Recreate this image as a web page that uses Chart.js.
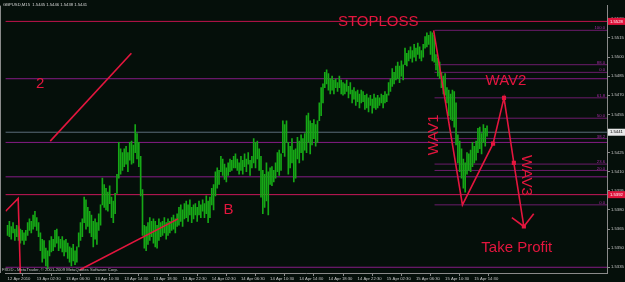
<!DOCTYPE html>
<html>
<head>
<meta charset="utf-8">
<script src="https://cdn.jsdelivr.net/npm/chart.js@4.4.1/dist/chart.umd.min.js"></script>
<style>
  html, body { margin: 0; padding: 0; background: #050f0a; }
  #wrap { width: 625px; height: 282px; }
</style>
</head>
<body>
<div id="wrap"><canvas id="chart" width="625" height="282"></canvas></div>
<script>
// GBPUSD M15 bars (high / low per bar)
const barHigh = [
  1.5368,1.5371,1.5367,1.5370,1.5365,1.5368,1.5367,1.5365,1.5364,1.5362,
  1.5364,1.5370,1.5373,1.5371,1.5376,1.5379,1.5374,1.5370,1.5362,1.5357,
  1.5356,1.5350,1.5348,1.5356,1.5359,1.5357,1.5364,1.5365,1.5359,1.5357,
  1.5359,1.5356,1.5357,1.5354,1.5351,1.5350,1.5353,1.5348,1.5351,1.5362,
  1.5370,1.5373,1.5390,1.5388,1.5382,1.5379,1.5376,1.5371,1.5373,1.5370,
  1.5377,1.5384,1.5405,1.5400,1.5397,1.5394,1.5399,1.5390,1.5387,1.5393,
  1.5408,1.5433,1.5428,1.5425,1.5428,1.5430,1.5425,1.5433,1.5434,1.5431,
  1.5447,1.5440,1.5433,1.5422,1.5396,1.5368,1.5367,1.5370,1.5374,1.5371,
  1.5373,1.5371,1.5368,1.5373,1.5370,1.5371,1.5374,1.5370,1.5373,1.5371,
  1.5374,1.5376,1.5373,1.5377,1.5382,1.5384,1.5380,1.5385,1.5387,1.5384,
  1.5388,1.5382,1.5384,1.5385,1.5382,1.5387,1.5384,1.5388,1.5385,1.5391,
  1.5387,1.5390,1.5397,1.5400,1.5410,1.5413,1.5411,1.5422,1.5420,1.5416,
  1.5413,1.5417,1.5420,1.5419,1.5422,1.5424,1.5420,1.5417,1.5422,1.5419,
  1.5424,1.5420,1.5425,1.5419,1.5422,1.5436,1.5433,1.5434,1.5428,1.5422,
  1.5411,1.5408,1.5417,1.5410,1.5413,1.5414,1.5411,1.5417,1.5425,1.5427,
  1.5424,1.5450,1.5447,1.5450,1.5433,1.5430,1.5436,1.5427,1.5428,1.5437,
  1.5434,1.5439,1.5436,1.5440,1.5454,1.5456,1.5450,1.5448,1.5451,1.5447,
  1.5450,1.5464,1.5476,1.5479,1.5488,1.5490,1.5487,1.5483,1.5485,1.5482,
  1.5483,1.5480,1.5485,1.5482,1.5480,1.5479,1.5482,1.5477,1.5480,1.5474,
  1.5476,1.5473,1.5474,1.5471,1.5474,1.5473,1.5470,1.5471,1.5468,1.5470,
  1.5467,1.5471,1.5468,1.5470,1.5468,1.5471,1.5470,1.5473,1.5471,1.5480,
  1.5483,1.5491,1.5488,1.5493,1.5496,1.5493,1.5497,1.5494,1.5507,1.5503,
  1.5505,1.5508,1.5505,1.5510,1.5507,1.5511,1.5508,1.5505,1.5510,1.5516,
  1.5519,1.5517,1.5520,1.5519,1.5517,1.5502,1.5499,1.5496,1.5488,1.5485,
  1.5487,1.5476,1.5474,1.5471,1.5474,1.5473,1.5464,1.5439,1.5434,1.5428,
  1.5420,1.5417,1.5425,1.5424,1.5427,1.5433,1.5430,1.5434,1.5444,1.5445,
  1.5440,1.5447,1.5444,1.5446
];
const barLow = [
  1.5360,1.5359,1.5357,1.5362,1.5356,1.5359,1.5356,1.5354,1.5356,1.5353,
  1.5356,1.5360,1.5364,1.5362,1.5365,1.5367,1.5364,1.5359,1.5348,1.5339,
  1.5342,1.5336,1.5334,1.5344,1.5347,1.5348,1.5351,1.5354,1.5348,1.5350,
  1.5347,1.5344,1.5347,1.5342,1.5339,1.5336,1.5340,1.5337,1.5339,1.5351,
  1.5356,1.5359,1.5370,1.5365,1.5367,1.5362,1.5359,1.5351,1.5357,1.5353,
  1.5364,1.5368,1.5384,1.5382,1.5380,1.5379,1.5385,1.5374,1.5370,1.5377,
  1.5393,1.5405,1.5408,1.5411,1.5414,1.5416,1.5410,1.5419,1.5416,1.5417,
  1.5425,1.5420,1.5414,1.5391,1.5360,1.5350,1.5348,1.5353,1.5356,1.5359,
  1.5354,1.5351,1.5350,1.5356,1.5359,1.5360,1.5362,1.5357,1.5360,1.5362,
  1.5364,1.5365,1.5362,1.5367,1.5368,1.5371,1.5367,1.5373,1.5374,1.5371,
  1.5376,1.5370,1.5373,1.5376,1.5371,1.5376,1.5374,1.5379,1.5374,1.5377,
  1.5370,1.5374,1.5384,1.5380,1.5391,1.5397,1.5400,1.5410,1.5407,1.5404,
  1.5402,1.5407,1.5410,1.5411,1.5413,1.5413,1.5411,1.5408,1.5411,1.5408,
  1.5414,1.5410,1.5416,1.5407,1.5413,1.5417,1.5413,1.5420,1.5411,1.5390,
  1.5377,1.5382,1.5387,1.5376,1.5400,1.5399,1.5402,1.5405,1.5410,1.5407,
  1.5411,1.5425,1.5422,1.5433,1.5408,1.5413,1.5417,1.5402,1.5405,1.5420,
  1.5417,1.5425,1.5419,1.5427,1.5425,1.5433,1.5424,1.5431,1.5436,1.5430,
  1.5433,1.5450,1.5454,1.5464,1.5476,1.5479,1.5474,1.5471,1.5474,1.5471,
  1.5476,1.5473,1.5476,1.5471,1.5470,1.5471,1.5473,1.5468,1.5471,1.5464,
  1.5467,1.5462,1.5465,1.5460,1.5464,1.5465,1.5459,1.5460,1.5457,1.5462,
  1.5456,1.5460,1.5459,1.5460,1.5462,1.5464,1.5460,1.5464,1.5465,1.5470,
  1.5473,1.5477,1.5479,1.5482,1.5483,1.5480,1.5485,1.5482,1.5494,1.5493,
  1.5497,1.5499,1.5496,1.5500,1.5497,1.5502,1.5499,1.5497,1.5500,1.5507,
  1.5508,1.5510,1.5502,1.5497,1.5496,1.5490,1.5485,1.5483,1.5476,1.5471,
  1.5470,1.5464,1.5454,1.5451,1.5450,1.5445,1.5431,1.5417,1.5410,1.5405,
  1.5397,1.5394,1.5408,1.5411,1.5410,1.5414,1.5417,1.5419,1.5425,1.5428,
  1.5424,1.5433,1.5430,1.5438
];

// time axis: one label every 16 bars (4 hours)
const timeTickBars = [0,16,32,48,64,80,96,112,128,144,160,176,192,208,224,240,256];
const timeLabels = [
  '12 Apr 2010','13 Apr 02:30','13 Apr 06:30','13 Apr 10:30','13 Apr 14:30',
  '13 Apr 18:30','13 Apr 22:30','14 Apr 02:30','14 Apr 06:30','14 Apr 10:30',
  '14 Apr 14:30','14 Apr 18:30','14 Apr 22:30','15 Apr 02:30','15 Apr 06:30',
  '15 Apr 10:30','15 Apr 14:30'
];
const priceTicks = [
  1.5335,1.5350,1.5365,1.5380,1.5395,1.5410,1.5425,1.5440,
  1.5455,1.5470,1.5485,1.5500,1.5515,1.5530
];

// full-width horizontal levels
const levelPrices = [1.5528, 1.5483, 1.5441, 1.5433, 1.5406, 1.5392, 1.5335];
// fibonacci levels on the right
const fibPrices = [1.5521, 1.5494, 1.5488, 1.5468, 1.5452, 1.5436, 1.5416, 1.5411, 1.5384];
const fibNames  = ['100.0', '88.0', '0.0', '61.8', '50.0', '38.2', '23.6', '20.0', '0.0'];

// hand-drawn red lines (bar index, price)
const wavePath = [[233.7,1.5521],[249.5,1.5384],[266.3,1.5432],[272.3,1.5468],[277.7,1.5417],[283.2,1.5367]];
const lineTwo = [[23.4,1.5434],[67.9,1.5503]];
const lineLeft = [[-1.1,1.5379],[5.8,1.5389],[7.0,1.5330]];
const lineB = [[39.7,1.5333],[93.5,1.5373]];
const arrowLeft = [[276.6,1.5374],[283.2,1.5367]];
const arrowRight = [[288.6,1.5377],[283.2,1.5367]];

const notes = [
  { text: 'STOPLOSS', x: 203.3, y: 1.5528, rot: 0 },
  { text: '2', x: 17.9, y: 1.5479, rot: 0 },
  { text: 'B', x: 121.2, y: 1.5380, rot: 0 },
  { text: 'WAV2', x: 273.4, y: 1.5481, rot: 0 },
  { text: 'WAV1', x: 233.7, y: 1.5439, rot: -1 },
  { text: 'WAV3', x: 284.2, y: 1.5407, rot: 1 },
  { text: 'Take Profit', x: 279.3, y: 1.5350, rot: 0 }
];

const RED = '#e3163e';
const SMALL = { family: 'Liberation Sans', size: 4.2 };

const pts = arr => arr.map(p => ({ x: p[0], y: p[1] }));
const redLine = (arr, radius) => ({
  type: 'line', data: pts(arr), borderColor: RED, backgroundColor: RED,
  borderWidth: 1.6, pointRadius: radius || 0, pointStyle: 'rect', fill: false, order: 1
});

const levelColors = ['#c0144c', '#851c85', '#5c6c7a', '#851c85', '#851c85', '#c8185a', '#851c85'];
const datasets = [];
levelPrices.forEach((p, i) => {
  datasets.push({ type: 'line', data: [{ x: -2, y: p }, { x: 330, y: p }], borderColor: levelColors[i],
    borderWidth: 1, pointRadius: 0, fill: false, order: 3 });
});
fibPrices.forEach(p => {
  datasets.push({ type: 'line', data: [{ x: 234.2, y: p }, { x: 330, y: p }], borderColor: '#6c1c6c',
    borderWidth: 1, pointRadius: 0, fill: false, order: 3 });
});
datasets.push({
  type: 'bar', data: barHigh.map((h, i) => ({ x: i, y: [barLow[i], h] })),
  backgroundColor: '#16a816', barThickness: 1, borderWidth: 0, order: 2
});
datasets.push(redLine(lineTwo));
datasets.push(redLine(lineLeft));
datasets.push(redLine(lineB));
datasets.push(Object.assign(redLine(wavePath), { pointRadius: [0, 0, 1.8, 1.8, 1.8, 1.8] }));
datasets.push(redLine(arrowLeft));
datasets.push(redLine(arrowRight));

const overlay = {
  id: 'overlay',
  beforeDraw(chart) {
    const ctx = chart.ctx;
    ctx.save();
    ctx.fillStyle = '#050f0a';
    ctx.fillRect(0, 0, chart.width, chart.height);
    ctx.restore();
  },
  afterDatasetsDraw(chart) {
    const { ctx, scales: { x, y }, chartArea } = chart;
    ctx.save();
    // fib level names
    ctx.font = '4.2px "Liberation Sans"';
    ctx.fillStyle = '#a82aa8';
    ctx.textAlign = 'right';
    ctx.textBaseline = 'bottom';
    fibPrices.forEach((p, i) => ctx.fillText(fibNames[i], chartArea.right - 2, y.getPixelForValue(p)));
    // red notes
    ctx.font = '15px "Liberation Sans"';
    ctx.fillStyle = RED;
    ctx.textAlign = 'center';
    ctx.textBaseline = 'middle';
    notes.forEach(n => {
      ctx.save();
      ctx.translate(x.getPixelForValue(n.x), y.getPixelForValue(n.y));
      ctx.rotate(n.rot * Math.PI / 2);
      ctx.fillText(n.text, 0, 0);
      ctx.restore();
    });
    ctx.restore();
  },
  afterDraw(chart) {
    const { ctx, scales: { y }, chartArea } = chart;
    ctx.save();
    ctx.font = '4.2px "Liberation Sans"';
    ctx.textBaseline = 'middle';
    ctx.textAlign = 'left';
    ctx.fillStyle = '#d8d8d8';
    ctx.fillText('GBPUSD,M15  1.5445 1.5446 1.5438 1.5441', 3, 5);
    ctx.fillStyle = '#c0c0c0';
    ctx.fillText('FXDD - MetaTrader, \u00a9 2001-2009 MetaQuotes Software Corp.', 2, 270);
    // left frame
    ctx.strokeStyle = '#8a8a8a';
    ctx.lineWidth = 1;
    ctx.beginPath();
    ctx.moveTo(0.5, chartArea.top);
    ctx.lineTo(0.5, chartArea.bottom);
    ctx.stroke();
    // price boxes on the axis
    const boxes = [
      { p: 1.5528, bg: '#e0143c', fg: '#ffffff' },
      { p: 1.5441, bg: '#e8e8e8', fg: '#000000' },
      { p: 1.5392, bg: '#e0143c', fg: '#ffffff' }
    ];
    boxes.forEach(b => {
      const py = y.getPixelForValue(b.p);
      ctx.fillStyle = b.bg;
      ctx.fillRect(chartArea.right + 1, py - 3.5, 18, 7);
      ctx.fillStyle = b.fg;
      ctx.fillText(b.p.toFixed(4), chartArea.right + 3, py);
    });
    ctx.restore();
  }
};

new Chart(document.getElementById('chart'), {
  type: 'bar',
  data: { datasets },
  plugins: [overlay],
  options: {
    responsive: false,
    animation: false,
    layout: { padding: 0 },
    plugins: { legend: { display: false }, tooltip: { enabled: false } },
    scales: {
      x: {
        type: 'linear', position: 'bottom', min: -1.09, max: 328.8, offset: false,
        grid: { drawOnChartArea: false, tickLength: 3, color: '#8a8a8a' },
        border: { color: '#8a8a8a' },
        ticks: {
          color: '#c8c8c8', font: SMALL, padding: 0, align: 'start',
          autoSkip: false, maxRotation: 0, callback: (v, i) => timeLabels[i]
        },
        afterBuildTicks: s => { s.ticks = timeTickBars.map(v => ({ value: v })); },
        afterFit: s => { s.height = 9; s.paddingLeft = 0; s.paddingRight = 0; }
      },
      y: {
        type: 'linear', position: 'right', min: 1.53305, max: 1.55404, beginAtZero: false,
        grid: { drawOnChartArea: false, tickLength: 3, color: '#8a8a8a' },
        border: { color: '#8a8a8a' },
        ticks: { color: '#c8c8c8', font: SMALL, padding: 1, callback: v => v.toFixed(4) },
        afterBuildTicks: s => { s.ticks = priceTicks.map(v => ({ value: v })); },
        afterFit: s => { s.width = 18; s.paddingTop = 0; s.paddingBottom = 0; }
      }
    }
  }
});
</script>
</body>
</html>
